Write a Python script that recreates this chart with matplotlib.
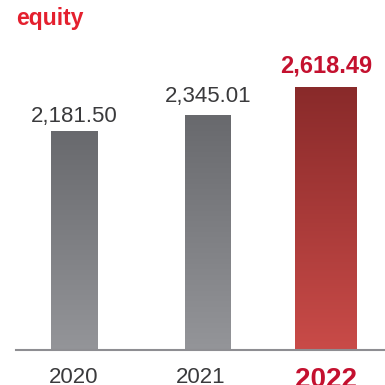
import numpy as np
import matplotlib.pyplot as plt
from matplotlib.colors import LinearSegmentedColormap

plt.rcParams['font.family'] = ['Liberation Sans', 'DejaVu Sans']

# equity by year
years = ['2020', '2021', '2022']
values = [2181.50, 2345.01, 2618.49]
value_labels = ['2,181.50', '2,345.01', '2,618.49']

# layout (axis units = pixels from the left edge)
centers = [74.5, 208, 326]
widths = [47, 46, 62]
year_pos = [74, 201, 326]
label_gap = [9, 13, 15]

gray_cmap = LinearSegmentedColormap.from_list('g', ['#949599', '#68696d'])
red_cmap = LinearSegmentedColormap.from_list('r', ['#c94b48', '#892a2a'])
RED_TEXT = '#c4112f'

fig = plt.figure(figsize=(3.85, 3.85), dpi=100)
ax = fig.add_axes([16 / 385, 35 / 385, 369 / 385, 350 / 385])
ymax = 3486

grad = np.linspace(0, 1, 256).reshape(-1, 1)
bars = ax.bar(centers, values, width=widths, facecolor='none', edgecolor='none')
for i, b in enumerate(bars):
    cmap = red_cmap if i == 2 else gray_cmap
    x0 = b.get_x()
    im = ax.imshow(grad, cmap=cmap, origin='lower', aspect='auto',
                   extent=(x0, x0 + b.get_width(), 0, b.get_height()), zorder=2)
    im.set_clip_path(b)

px = ymax / 350
for i, (c, v, lab) in enumerate(zip(centers, values, value_labels)):
    last = i == 2
    ax.text(c, v + label_gap[i] * px, lab, ha='center', va='baseline',
            fontsize=17 if last else 16, color=RED_TEXT if last else '#3a3a3c',
            fontweight='bold' if last else 'normal')

ax.set_xlim(16, 385)
ax.set_ylim(0, ymax)

for s in ['top', 'right', 'left']:
    ax.spines[s].set_visible(False)
ax.spines['bottom'].set_color('#8e8e92')
ax.spines['bottom'].set_linewidth(1.5)
ax.set_yticks([])
ax.set_xticks(year_pos, years)
ax.tick_params(axis='x', length=0, pad=12, labelsize=16, labelcolor='#3a3a3c')
tl = ax.get_xticklabels()
tl[2].set_fontweight('bold')
tl[2].set_fontsize(20)
tl[2].set_color(RED_TEXT)

fig.text(16 / 385, 1 - 25 / 385, 'equity', ha='left', va='baseline',
         fontsize=16.5, fontweight='bold', color='#e4202e')

fig.savefig('out.png', dpi=100)
